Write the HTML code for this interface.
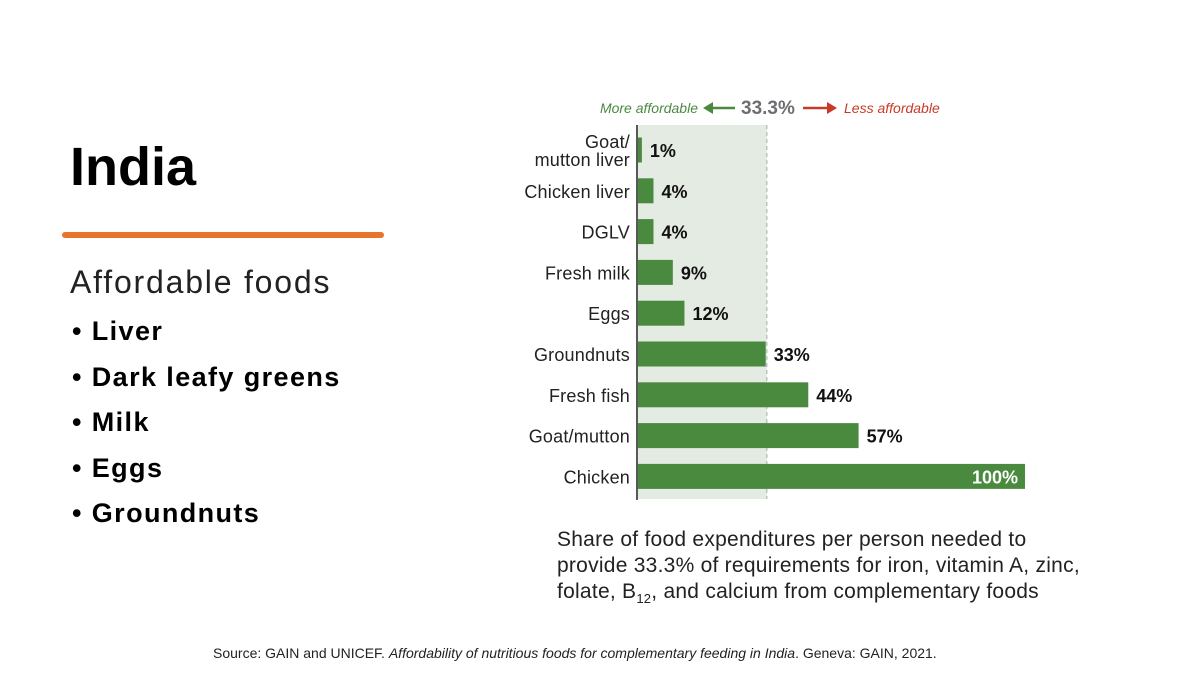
<!DOCTYPE html>
<html><head><meta charset="utf-8"><style>
body{margin:0;width:1200px;height:675px;background:#fff;overflow:hidden;font-family:"Liberation Sans",sans-serif;position:relative}
.t{position:absolute}
</style></head><body>
<div class="t" style="left:70px;top:136px;font-size:54px;font-weight:bold;color:#000">India</div>
<div class="t" style="left:62px;top:232px;width:322px;height:6px;background:#e8742a;border-radius:3px"></div>
<div class="t" style="left:70px;top:264px;font-size:32px;letter-spacing:1.8px;color:#222">Affordable foods</div>
<div class="t" style="left:72px;top:309px;font-size:27px;font-weight:bold;line-height:45.5px;letter-spacing:1.4px;color:#000">
<div>• Liver</div><div>• Dark leafy greens</div><div>• Milk</div><div>• Eggs</div><div>• Groundnuts</div></div>
<div class="t" style="left:557px;top:527px;font-size:21px;line-height:26px;letter-spacing:0.25px;color:#222">Share of food expenditures per person needed to<br>provide 33.3% of requirements for iron, vitamin A, zinc,<br>folate, B<sub style="font-size:13px">12</sub>, and calcium from complementary foods</div>
<div class="t" style="left:213px;top:645px;font-size:14px;color:#222">Source: GAIN and UNICEF. <i>Affordability of nutritious foods for complementary feeding in India</i>. Geneva: GAIN, 2021.</div>
<svg class="t" style="left:0;top:0" width="1200" height="675">
<g id="g"></g></svg>
<script>
const categories=["Goat/|mutton liver","Chicken liver","DGLV","Fresh milk","Eggs","Groundnuts","Fresh fish","Goat/mutton","Chicken"];
const values=[1,4,4,9,12,33,44,57,100];
const labels=["1%","4%","4%","9%","12%","33%","44%","57%","100%"];
const threshold=33.3;
const x0=638,x1=1025,y0=150,step=40.8,bh=25;
const xs=v=>x0+(x1-x0)*v/100;
const ys=i=>y0+i*step;
const g=document.getElementById('g');
const NS='http://www.w3.org/2000/svg';
function mk(t,a){const e=document.createElementNS(NS,t);for(const k in a)e.setAttribute(k,a[k]);g.appendChild(e);return e;}
let e=mk('rect',{x:x0,y:125,width:xs(threshold)-x0,height:374,fill:'#e4ebe2'});


e=mk('line',{x1:xs(threshold),x2:xs(threshold),y1:125,y2:499,stroke:'#aaa','stroke-dasharray':'4,3'});


e=mk('line',{x1:637,x2:637,y1:125,y2:500,stroke:'#222','stroke-width':1.5});


categories.forEach((c,i)=>{
 const y=ys(i);
 const b=mk('rect',{x:x0,y:y-bh/2,width:xs(values[i])-x0,height:bh,fill:'#4a8a3f'});
 
 
 const parts=c.split('|');
 parts.forEach((p,j)=>{
  const t=mk('text',{x:630,y:y+7+(parts.length>1?(j-0.5)*18:0),'text-anchor':'end','font-size':18,'letter-spacing':0.2,fill:'#222','font-family':'Liberation Sans, sans-serif'});
  t.textContent=p;
  
  
 });
 const inside=values[i]>=90;
 const l=mk('text',{x:inside?xs(values[i])-7:xs(values[i])+8,y:y+7,'text-anchor':inside?'end':'start','font-size':18,'font-weight':'bold',fill:inside?'#fff':'#111','font-family':'Liberation Sans, sans-serif'});
 l.textContent=labels[i];
 
 
});
</script>
<svg class="t" style="left:0;top:0" width="1200" height="130">
<text x="698" y="113" text-anchor="end" font-size="14" font-style="italic" fill="#4a8a3f" font-family="Liberation Sans">More affordable</text>
<line x1="706" y1="108" x2="735" y2="108" stroke="#4a8a3f" stroke-width="2.5"/><polygon points="703,108 713,102 713,114" fill="#4a8a3f"/>
<text x="741" y="114" font-size="19" font-weight="bold" fill="#6d6e71" font-family="Liberation Sans">33.3%</text>
<line x1="803" y1="108" x2="830" y2="108" stroke="#c93a26" stroke-width="2.5"/><polygon points="837,108 827,102 827,114" fill="#c93a26"/>
<text x="844" y="113" font-size="14" font-style="italic" fill="#c93a26" font-family="Liberation Sans">Less affordable</text>
</svg>
</body></html>
